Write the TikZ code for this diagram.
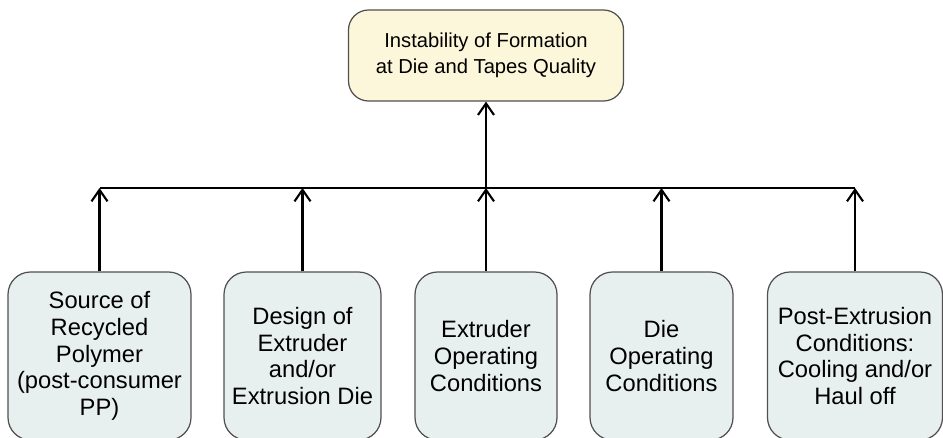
\documentclass[tikz,border=0pt]{standalone}
\usepackage{fontspec}
\setmainfont{Liberation Sans}
\usepackage{xcolor}
\usetikzlibrary{arrows.meta,positioning}
\definecolor{topfill}{HTML}{FCF7DA}
\definecolor{factorfill}{HTML}{E8F0EF}
\definecolor{edge}{HTML}{505050}
\tikzset{
  effect/.style={
    shape = rectangle,
    draw = edge,
    line width = 0.7pt,
    rounded corners = 0.4cm,
    fill = topfill,
    align = center,
    minimum width = 5.5cm,
    minimum height = 1.82cm,
    font = \fontsize{11.5}{14.8}\selectfont
  },
  factor/.style={
    shape = rectangle,
    draw = edge,
    line width = 0.7pt,
    rounded corners = 0.45cm,
    fill = factorfill,
    align = center,
    minimum height = 3.36cm,
    inner sep = 0pt,
    font = \fontsize{13.5}{15.2}\selectfont
  },
  link/.style={
    line width = 1.2pt,
    -{Straight Barb[length=2.3mm,width=3.2mm,line width=1.2pt]}
  }
}
\begin{document}
\begin{tikzpicture}
  \useasboundingbox (0,0) rectangle (18.86,8.74);
  \node[effect] (top) at (9.72,7.63) {Instability of Formation\\at Die and Tapes Quality};
  \node[factor, minimum width=3.66cm] (src)  at (1.99,1.62)  {Source of\\Recycled\\Polymer\\(post-consumer\\PP)};
  \node[factor, minimum width=3.14cm] (des)  at (6.05,1.62)  {Design of\\Extruder\\and/or\\Extrusion Die};
  \node[factor, minimum width=2.84cm] (ext)  at (9.72,1.62)  {Extruder\\Operating\\Conditions};
  \node[factor, minimum width=2.86cm] (die)  at (13.23,1.62) {Die\\Operating\\Conditions};
  \node[factor, minimum width=3.5cm]  (post) at (17.1,1.62)  {Post-Extrusion\\Conditions:\\Cooling and/or\\Haul off};
  \coordinate (bar) at (0,4.98);
  % common bar
  \draw[line width=1.2pt] (src.north |- bar) -- (post.north |- bar);
  \foreach \f in {src,des,ext,die,post}
    \draw[link] (\f.north) -- (\f.north |- bar);
  \draw[link] (top.south |- bar) -- (top.south);
\end{tikzpicture}
\end{document}
